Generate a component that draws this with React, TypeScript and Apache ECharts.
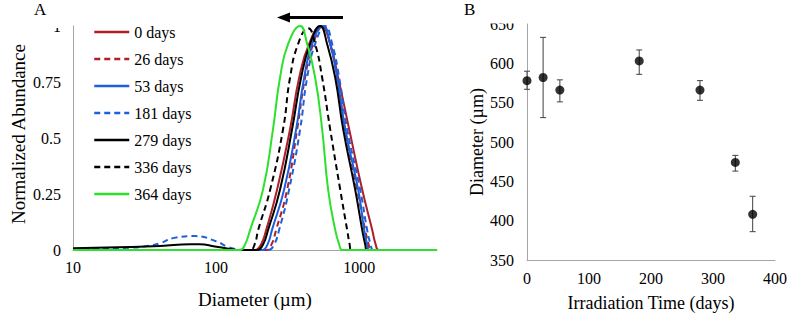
import React, { useEffect, useRef } from "react";
import * as echarts from "echarts";

const FONT = "Liberation Serif";

// Panel A: normalized abundance vs diameter (µm), one [diameter, abundance] list per series
const seriesNames = ["0 days", "26 days", "53 days", "181 days", "279 days", "336 days", "364 days"];

const d0: [number, number][] = [[10, 0], [165, 0], [187, 0], [206, 0.025], [224, 0.09], [267, 0.27], [329, 0.54], [381, 0.77], [447, 0.92], [542, 1], [627, 0.92], [713, 0.77], [851, 0.54], [1050, 0.27], [1233, 0.09], [1304, 0.025], [1369, 0], [1545, 0], [3500, 0]];
const d26: [number, number][] = [[10, 0], [197, 0], [224, 0], [244, 0.025], [263, 0.09], [314, 0.27], [369, 0.54], [419, 0.77], [477, 0.92], [560, 1], [627, 0.92], [702, 0.77], [798, 0.54], [968, 0.27], [1102, 0.09], [1165, 0.025], [1213, 0], [1380, 0], [3500, 0]];
const d53: [number, number][] = [[10, 0], [184, 0], [210, 0], [229, 0.025], [246, 0.09], [299, 0.27], [363, 0.54], [413, 0.77], [469, 0.92], [560, 1], [627, 0.92], [702, 0.77], [798, 0.54], [984, 0.27], [1084, 0.09], [1137, 0.025], [1175, 0], [1336, 0], [3500, 0]];
const d181: [number, number][] = [[10, 0.005], [25, 0.01], [33, 0.018], [40.6, 0.03], [50, 0.053], [71.3, 0.062], [101.6, 0.037], [119.4, 0.015], [140.3, 0.003], [160, 0], [197, 0], [231, 0], [254.5, 0.025], [276, 0.09], [324, 0.27], [387, 0.54], [433, 0.77], [492.5, 0.92], [578, 1], [647.5, 0.92], [725, 0.77], [824, 0.54], [1016, 0.27], [1137, 0.09], [1203, 0.025], [1253, 0], [1425, 0], [3500, 0]];
const d279: [number, number][] = [[10, 0.008], [25, 0.013], [41, 0.018], [66, 0.026], [77, 0.026], [98, 0.016], [125, 0.005], [147, 0], [170, 0], [193.5, 0], [213, 0.025], [231, 0.09], [280, 0.27], [340, 0.54], [393, 0.77], [454.5, 0.92], [534, 1], [597, 0.92], [680, 0.77], [773, 0.54], [938, 0.27], [1050, 0.09], [1102, 0.025], [1137, 0], [1294, 0], [3500, 0]];
const d336: [number, number][] = [[10, 0], [152, 0], [173, 0], [186, 0.025], [197, 0.09], [239, 0.27], [294, 0.54], [329, 0.77], [374.5, 0.92], [440, 0.99], [492.5, 0.92], [551, 0.77], [627, 0.54], [737, 0.27], [824, 0.09], [858, 0.025], [879, 0], [1000, 0], [3500, 0]];
const d364: [number, number][] = [[10, 0], [129, 0], [147, 0], [159.5, 0.025], [173, 0.09], [213, 0.27], [250, 0.54], [280, 0.77], [319, 0.92], [387, 1], [433, 0.92], [492.5, 0.77], [551, 0.54], [607, 0.27], [680, 0.09], [725, 0.025], [760, 0], [865, 0], [3500, 0]];

const seriesDataA = [d0, d26, d53, d181, d279, d336, d364];
const seriesColors = ["#B01E28", "#B01E28", "#1F5FDB", "#1F5FDB", "#000000", "#000000", "#2EE02E"];
const seriesDashed = [false, true, false, true, false, true, false];

const xTicksA = [10, 100, 1000];
const yTicksA = [0, 0.25, 0.5, 0.75, 1];

// Panel B: mean diameter vs irradiation time
const times = [0, 26, 53, 181, 279, 336, 364];
const means = [578, 582, 566, 603, 566, 474, 408];
const errLow = [567, 531, 551, 586, 553, 463, 386];
const errHigh = [590, 633, 579, 617, 578, 483, 431];

export default function App() {
  const ref = useRef<HTMLDivElement>(null);

  useEffect(() => {
    if (!ref.current) return;
    const chart = echarts.init(ref.current, undefined, { renderer: "svg" });
    const axisLine = { show: true, lineStyle: { color: "#A6A6A6", width: 1 } };
    const labelStyle = { fontFamily: FONT, fontSize: 16, color: "#000" };
    const nameStyle = { fontFamily: FONT, fontSize: 18, color: "#000" };

    const lineSeries = seriesNames.map((name, i) => ({
      name,
      type: "line",
      xAxisIndex: 0,
      yAxisIndex: 0,
      data: seriesDataA[i],
      symbol: "none",
      showSymbol: false,
      smooth: 0.5,
      lineStyle: {
        color: seriesColors[i],
        width: 2,
        type: seriesDashed[i] ? [6, 4] : "solid",
      },
      itemStyle: { color: seriesColors[i] },
      z: 2 + i,
    }));

    chart.setOption({
      animation: false,
      backgroundColor: "#fff",
      textStyle: { fontFamily: FONT },
      grid: [
        { left: 73, top: 26, width: 364, height: 224 },
        { left: 527, top: 24, width: 248, height: 236 },
      ],
      legend: {
        data: seriesNames,
        orient: "vertical",
        left: 93,
        top: 24,
        padding: 0,
        itemWidth: 35,
        itemHeight: 16,
        itemGap: 11,
        itemStyle: { opacity: 0 },
        lineStyle: { width: 2.5 },
        textStyle: { fontFamily: FONT, fontSize: 16, color: "#000", lineHeight: 16 },
      },
      xAxis: [
        {
          type: "log",
          gridIndex: 0,
          logBase: 10,
          min: 10,
          max: 3500,
          axisLine,
          axisTick: { show: false },
          splitLine: { show: false },
          axisLabel: {
            ...labelStyle,
            margin: 9,
            showMaxLabel: false,
            formatter: (v: number) => {
              const t = xTicksA.find((k) => Math.abs(k - v) / k < 1e-6);
              return t !== undefined ? String(t) : "";
            },
          },
          name: "Diameter (µm)",
          nameLocation: "middle",
          nameGap: 40,
          nameTextStyle: { ...nameStyle, fontSize: 19 },
        },
        {
          type: "value",
          gridIndex: 1,
          min: 0,
          max: 400,
          interval: 100,
          axisLine,
          axisTick: { show: false },
          splitLine: { show: false },
          axisLabel: { ...labelStyle, margin: 10 },
          name: "Irradiation Time (days)",
          nameLocation: "middle",
          nameGap: 34,
          nameTextStyle: nameStyle,
        },
      ],
      yAxis: [
        {
          type: "value",
          gridIndex: 0,
          min: yTicksA[0],
          max: yTicksA[yTicksA.length - 1],
          interval: 0.25,
          axisLine,
          axisTick: { show: false },
          splitLine: { show: false },
          axisLabel: { ...labelStyle, margin: 12, formatter: (v: number) => String(v) },
        },
        {
          type: "value",
          gridIndex: 1,
          min: 350,
          max: 650,
          interval: 50,
          axisLine,
          axisTick: { show: false },
          splitLine: { show: false },
          axisLabel: { ...labelStyle, margin: 13 },
          name: "Diameter (µm)",
          nameLocation: "middle",
          nameGap: 41,
          nameTextStyle: nameStyle,
        },
      ],
      series: [
        ...lineSeries,
        {
          name: "err",
          type: "custom",
          xAxisIndex: 1,
          yAxisIndex: 1,
          data: times.map((t, i) => [t, errLow[i], errHigh[i]]),
          renderItem: (params: any, api: any) => {
            const lo = api.coord([api.value(0), api.value(1)]);
            const hi = api.coord([api.value(0), api.value(2)]);
            const w = 3;
            const style = { stroke: "#404040", lineWidth: 1 };
            return {
              type: "group",
              children: [
                { type: "line", shape: { x1: lo[0], y1: lo[1], x2: hi[0], y2: hi[1] }, style },
                { type: "line", shape: { x1: lo[0] - w, y1: lo[1], x2: lo[0] + w, y2: lo[1] }, style },
                { type: "line", shape: { x1: hi[0] - w, y1: hi[1], x2: hi[0] + w, y2: hi[1] }, style },
              ],
            };
          },
          z: 1,
        },
        {
          name: "mean",
          type: "scatter",
          xAxisIndex: 1,
          yAxisIndex: 1,
          data: times.map((t, i) => [t, means[i]]),
          symbol: "circle",
          symbolSize: 9,
          itemStyle: { color: "#000" },
          z: 3,
        },
      ],
      graphic: [
        { type: "text", left: 34, top: 1, style: { text: "A", font: `17px '${FONT}'`, fill: "#000" } },
        { type: "text", left: 464, top: 1, style: { text: "B", font: `17px '${FONT}'`, fill: "#000" } },
        {
          type: "text",
          x: 18,
          y: 134,
          rotation: Math.PI / 2,
          style: {
            text: "Normalized Abundance",
            font: `19px '${FONT}'`,
            fill: "#000",
            align: "center",
            verticalAlign: "middle",
          },
        },
        // arrow indicating shift
        { type: "line", shape: { x1: 288, y1: 17.5, x2: 343, y2: 17.5 }, style: { stroke: "#000", lineWidth: 3 }, z: 10 },
        { type: "polygon", shape: { points: [[277, 17.5], [290, 12.5], [290, 22.5]] }, style: { fill: "#000" }, z: 10 },
        // cropped top edges of the topmost tick labels
        { type: "rect", shape: { x: 46, y: 15, width: 24, height: 13 }, style: { fill: "#fff" }, z: 100 },
        { type: "rect", shape: { x: 484, y: 10, width: 38, height: 13.5 }, style: { fill: "#fff" }, z: 100 },
      ],
    });
    return () => chart.dispose();
  }, []);

  return (
    <div
      ref={ref}
      style={{ position: "fixed", left: 0, top: 0, width: 792, height: 319, background: "#fff" }}
    />
  );
}
